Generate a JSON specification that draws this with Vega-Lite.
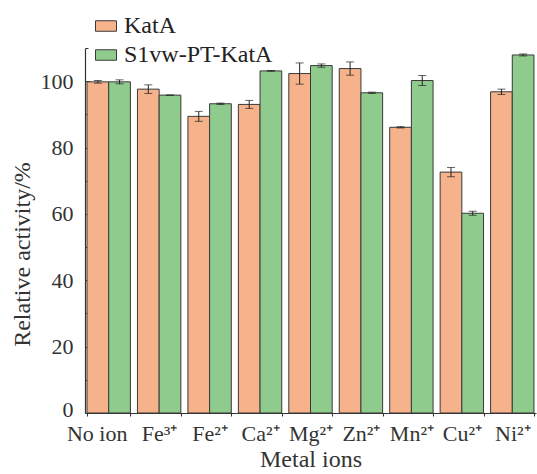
{
  "$schema": "https://vega.github.io/schema/vega-lite/v6.json",
  "width": 451,
  "height": 365,
  "autosize": {"type": "none"},
  "padding": {"left": 85, "top": 48, "right": 1, "bottom": 61},
  "background": "white",
  "config": {
    "view": {"stroke": null},
    "font": "Liberation Serif",
    "axis": {"labelFont": "Liberation Serif", "titleFont": "Liberation Serif", "labelColor": "#333", "titleColor": "#333", "domainColor": "#333", "tickColor": "#333", "grid": false, "titleFontWeight": "normal"},
    "legend": {"labelFont": "Liberation Serif"}
  },
  "data": {"values": [
    {"ion": "No ion", "enzyme": "KatA", "value": 99.8, "err": 0.4},
    {"ion": "No ion", "enzyme": "S1vw-PT-KatA", "value": 99.8, "err": 0.6},
    {"ion": "Fe³⁺", "enzyme": "KatA", "value": 97.6, "err": 1.3},
    {"ion": "Fe³⁺", "enzyme": "S1vw-PT-KatA", "value": 95.8, "err": 0},
    {"ion": "Fe²⁺", "enzyme": "KatA", "value": 89.4, "err": 1.5},
    {"ion": "Fe²⁺", "enzyme": "S1vw-PT-KatA", "value": 93.2, "err": 0.2},
    {"ion": "Ca²⁺", "enzyme": "KatA", "value": 93.0, "err": 1.2},
    {"ion": "Ca²⁺", "enzyme": "S1vw-PT-KatA", "value": 103.1, "err": 0.1},
    {"ion": "Mg²⁺", "enzyme": "KatA", "value": 102.3, "err": 3.2},
    {"ion": "Mg²⁺", "enzyme": "S1vw-PT-KatA", "value": 104.7, "err": 0.5},
    {"ion": "Zn²⁺", "enzyme": "KatA", "value": 103.8, "err": 2.0},
    {"ion": "Zn²⁺", "enzyme": "S1vw-PT-KatA", "value": 96.5, "err": 0.2},
    {"ion": "Mn²⁺", "enzyme": "KatA", "value": 86.1, "err": 0.2},
    {"ion": "Mn²⁺", "enzyme": "S1vw-PT-KatA", "value": 100.2, "err": 1.5},
    {"ion": "Cu²⁺", "enzyme": "KatA", "value": 72.6, "err": 1.4},
    {"ion": "Cu²⁺", "enzyme": "S1vw-PT-KatA", "value": 60.2, "err": 0.6},
    {"ion": "Ni²⁺", "enzyme": "KatA", "value": 96.8, "err": 0.8},
    {"ion": "Ni²⁺", "enzyme": "S1vw-PT-KatA", "value": 107.9, "err": 0.3}
  ]},
  "encoding": {
    "x": {
      "field": "ion", "type": "nominal", "sort": null,
      "scale": {"paddingInner": 0.14, "paddingOuter": 0.04},
      "axis": {"title": "Metal ions", "labelAngle": 0, "labelFont": "Liberation Serif", "titleFont": "Liberation Serif", "labelFontSize": 22, "titleFontSize": 24, "labelPadding": 7, "titlePadding": 3, "labelOffset": {"condition": {"test": "datum.value === 'No ion'", "value": -12}, "value": 0}, "tickBand": "extent", "tickSize": 3, "domainWidth": 1.2}
    },
    "xOffset": {"field": "enzyme", "type": "nominal", "sort": ["KatA", "S1vw-PT-KatA"]}
  },
  "resolve": {"axis": {"y": "independent"}},
  "layer": [
    {
      "mark": {"type": "bar", "stroke": "#3a3a3a", "strokeWidth": 1},
      "encoding": {
        "y": {
          "field": "value", "type": "quantitative",
          "scale": {"domain": [0, 110], "nice": false},
          "axis": {"orient": "left", "title": "Relative activity/%", "values": [0, 20, 40, 60, 80, 100], "labelFont": "Liberation Serif", "titleFont": "Liberation Serif", "labelFontSize": 22, "titleFontSize": 24, "tickSize": -5, "labelPadding": 17, "labelOffset": {"condition": {"test": "datum.value === 0", "value": -4}, "value": 0}, "titleX": -63, "titleY": 206, "titleBaseline": "middle", "titleAlign": "center", "titleAngle": -90, "domainWidth": 1.2}
        },
        "fill": {
          "field": "enzyme", "type": "nominal",
          "scale": {"domain": ["KatA", "S1vw-PT-KatA"], "range": ["#F6B28A", "#8FCB8C"]},
          "legend": {
            "title": null, "orient": "none", "legendX": 9, "legendY": -34, "padding": 0,
            "symbolType": "M-1,-0.5h2v1h-2z", "symbolSize": 441,
            "symbolStrokeColor": "#3a3a3a", "symbolStrokeWidth": 1,
            "labelFont": "Liberation Serif", "labelFontSize": 24, "labelColor": "#222", "rowPadding": 5, "labelOffset": 6
          }
        }
      }
    },
    {
      "mark": {"type": "errorbar", "ticks": {"size": 8, "color": "#222"}, "color": "#222", "thickness": 1},
      "encoding": {
        "y": {"field": "value", "type": "quantitative", "axis": null},
        "yError": {"field": "err"}
      }
    },
    {
      "mark": {"type": "tick", "opacity": 0},
      "encoding": {
        "y": {"datum": 10, "type": "quantitative", "axis": {"orient": "left", "values": [10, 30, 50, 70, 90, 110], "labels": false, "title": null, "tickSize": -3, "domain": false}}
      }
    }
  ]
}
